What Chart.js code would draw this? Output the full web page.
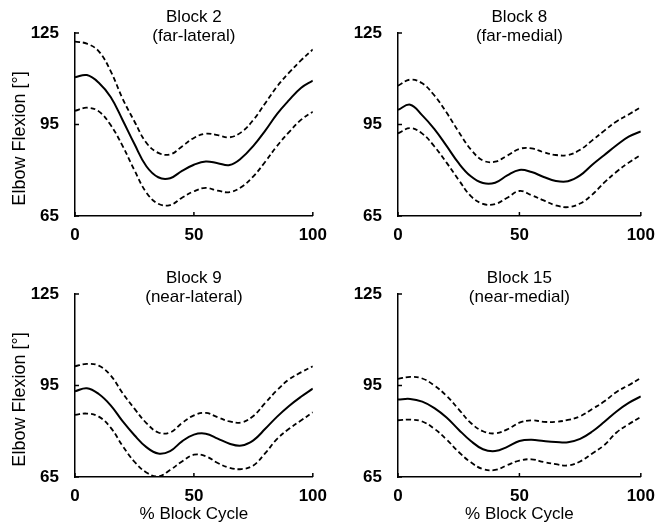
<!DOCTYPE html>
<html>
<head>
<meta charset="utf-8">
<script src="https://cdn.jsdelivr.net/npm/chart.js@4.4.0/dist/chart.umd.min.js"></script>
<style>
  body { margin: 0; background: #fff; }
  #wrap { position: relative; width: 656px; height: 527px; }
  .panel { position: absolute; }
</style>
</head>
<body>
<div id="wrap">
  <div class="panel" style="left:0;top:0;width:328px;height:260px"><canvas id="c1"></canvas></div>
  <div class="panel" style="left:328px;top:0;width:328px;height:260px"><canvas id="c2"></canvas></div>
  <div class="panel" style="left:0;top:260px;width:328px;height:267px"><canvas id="c3"></canvas></div>
  <div class="panel" style="left:328px;top:260px;width:328px;height:267px"><canvas id="c4"></canvas></div>
</div>
<script>
// % block cycle
const xPct = [0, 5, 10, 15, 20, 25, 30, 35, 40, 45, 50, 55, 60, 65, 70, 75, 80, 85, 90, 95, 100];
const xTicks = [0, 50, 100];
const yTicks = [65, 95, 125];

// Block 2 (far-lateral)
const block2Mean  = [110.5, 111.2, 108.7, 104, 96.5, 88.6, 81.3, 77.7, 77.4, 79.8, 81.8, 82.9, 82.3, 81.7, 84, 88, 93, 98.5, 103, 107, 109.4];
const block2Upper = [122.2, 121.5, 119, 112.5, 103.5, 96, 89, 85.7, 85.2, 87.8, 90.6, 92, 91.5, 90.8, 92.5, 96.5, 102, 107.5, 112, 116, 119.6];
const block2Lower = [99.5, 100.5, 99.3, 94.8, 88, 80, 72.7, 69, 68.6, 71, 73.1, 74.2, 73.3, 72.8, 74.5, 78, 82.8, 88, 92.5, 96.5, 99.2];

// Block 8 (far-medial)
const block8Mean  = [99.8, 101.5, 98, 93.5, 88, 82.3, 78, 75.8, 75.9, 78.3, 80.1, 79.4, 77.8, 76.5, 76.4, 78.3, 81.8, 85, 88.2, 91, 92.7];
const block8Upper = [107.7, 109.7, 108.5, 104.5, 98.9, 92.6, 86.8, 83.2, 82.8, 84.8, 87, 87.2, 85.9, 85, 85, 86.7, 89.8, 93, 96, 98.3, 100.7];
const block8Lower = [92.1, 93.8, 92, 87.8, 82.5, 76.8, 71.5, 69, 68.9, 71, 73.2, 71.8, 70.1, 68.5, 67.9, 69.1, 72, 76, 79.5, 82.5, 85];

// Block 9 (near-lateral)
const block9Mean  = [93.1, 94.1, 92.2, 88.5, 83.3, 78.7, 74.8, 72.7, 73.5, 76.7, 78.9, 79.2, 77.6, 75.9, 75.3, 77, 80.8, 84.8, 88.3, 91.3, 94];
const block9Upper = [101.3, 102.1, 101.5, 98.3, 92.5, 87.4, 82.7, 79.6, 79.6, 82.7, 85.2, 86, 84.6, 83.2, 82.9, 85, 89.3, 93.5, 97, 99.3, 101.3];
const block9Lower = [85.4, 85.8, 84.8, 81.2, 75.2, 70, 66.5, 65.2, 67.3, 70.1, 72.3, 71.8, 69.6, 68, 67.6, 68.8, 72.8, 77.5, 80.8, 83.5, 86.2];

// Block 15 (near-medial)
const block15Mean  = [90.4, 90.6, 89.7, 87.6, 84.5, 80.5, 76.8, 74.1, 73.5, 74.9, 76.8, 77.2, 76.8, 76.5, 76.4, 77.5, 79.9, 83.1, 86.5, 89.3, 91.4];
const block15Upper = [97.2, 97.8, 97.3, 95, 91.6, 87.2, 82.7, 80, 79.3, 80.6, 82.8, 83.6, 83.1, 83.1, 83.7, 84.9, 87.3, 89.8, 92.9, 95.1, 97.5];
const block15Lower = [83.6, 83.8, 83.2, 80.8, 77.3, 73.2, 69.8, 67.6, 67.3, 68.9, 70.4, 70.8, 69.9, 69.2, 68.8, 70.1, 72.7, 75.5, 79.6, 82.3, 84.7];

const FONT = '"Liberation Sans", Arial, sans-serif';
const TICKFONT = '"Liberation Sans Narrow", "Liberation Sans", Arial, sans-serif';

// titles inside the top of the plot, y label, inward tick marks
const panelDecor = {
  id: 'panelDecor',
  afterDraw(chart, args, o) {
    const {ctx, chartArea: a, scales: {x, y}} = chart;
    ctx.save();
    ctx.strokeStyle = '#000';
    ctx.lineWidth = 1.5;
    x.ticks.forEach(t => {
      const px = x.getPixelForValue(t.value);
      ctx.beginPath(); ctx.moveTo(px, a.bottom); ctx.lineTo(px, a.bottom - 4); ctx.stroke();
    });
    y.ticks.forEach(t => {
      const py = y.getPixelForValue(t.value);
      ctx.beginPath(); ctx.moveTo(a.left, py); ctx.lineTo(a.left + 4, py); ctx.stroke();
    });
    ctx.fillStyle = '#000';
    ctx.font = '17px ' + FONT;
    ctx.textAlign = 'center';
    ctx.textBaseline = 'middle';
    const cx = (a.left + a.right) / 2;
    ctx.fillText(o.title, cx, a.top - 16);
    ctx.fillText(o.sub, cx, a.top + 3);
    if (o.ylabel) {
      ctx.font = '18px ' + FONT;
      ctx.translate(20, (a.top + a.bottom) / 2 + 14);
      ctx.rotate(-Math.PI / 2);
      ctx.fillText(o.ylabel, 0, 0);
    }
    ctx.restore();
  }
};

function pts(vals) {
  return xPct.map((x, i) => ({x: x, y: vals[i]}));
}

function makePanel(id, title, sub, mean, upper, lower, p) {
  const dash = {borderColor: '#000', borderWidth: 1.8, borderDash: [5, 3], pointRadius: 0, tension: 0.4, fill: false};
  new Chart(document.getElementById(id), {
    type: 'line',
    data: {
      datasets: [
        Object.assign({label: 'upper', data: pts(upper)}, dash),
        {label: 'mean', data: pts(mean), borderColor: '#000', borderWidth: 2, pointRadius: 0, tension: 0.4, fill: false},
        Object.assign({label: 'lower', data: pts(lower)}, dash)
      ]
    },
    options: {
      responsive: true,
      maintainAspectRatio: false,
      animation: false,
      layout: {padding: {top: p.top, right: p.right, left: 0, bottom: 0}},
      plugins: {
        legend: {display: false},
        tooltip: {enabled: false},
        panelDecor: {title: title, sub: sub, ylabel: p.yTitle ? 'Elbow Flexion [°]' : ''}
      },
      scales: {
        x: {
          type: 'linear', min: 0, max: 100,
          afterBuildTicks: s => { s.ticks = xTicks.map(v => ({value: v})); },
          afterFit: s => { s.height = p.xh; },
          grid: {display: false},
          border: {display: true, color: '#000', width: 1.5},
          ticks: {color: '#000', font: {family: TICKFONT, size: 17, weight: 'bold'}, padding: 1, maxRotation: 0, autoSkip: false},
          title: {display: p.xTitle, text: '% Block Cycle', color: '#000', font: {family: FONT, size: 17}, padding: {top: 0, bottom: 2}}
        },
        y: {
          min: 65, max: 125,
          afterBuildTicks: s => { s.ticks = yTicks.map(v => ({value: v})); },
          afterFit: s => { s.width = p.yw; },
          grid: {display: false},
          border: {display: true, color: '#000', width: 1.5},
          ticks: {color: '#000', font: {family: TICKFONT, size: 17, weight: 'bold'}, padding: 8}
        }
      }
    },
    plugins: [panelDecor]
  });
}

makePanel('c1', 'Block 2', '(far-lateral)', block2Mean, block2Upper, block2Lower,
  {top: 33, right: 12, xh: 44, yw: 75, xTitle: false, yTitle: true});
makePanel('c2', 'Block 8', '(far-medial)', block8Mean, block8Upper, block8Lower,
  {top: 33, right: 15, xh: 44, yw: 70, xTitle: false, yTitle: false});
makePanel('c3', 'Block 9', '(near-lateral)', block9Mean, block9Upper, block9Lower,
  {top: 34, right: 12, xh: 50, yw: 75, xTitle: true, yTitle: true});
makePanel('c4', 'Block 15', '(near-medial)', block15Mean, block15Upper, block15Lower,
  {top: 34, right: 15, xh: 50, yw: 70, xTitle: true, yTitle: false});
</script>
</body>
</html>
